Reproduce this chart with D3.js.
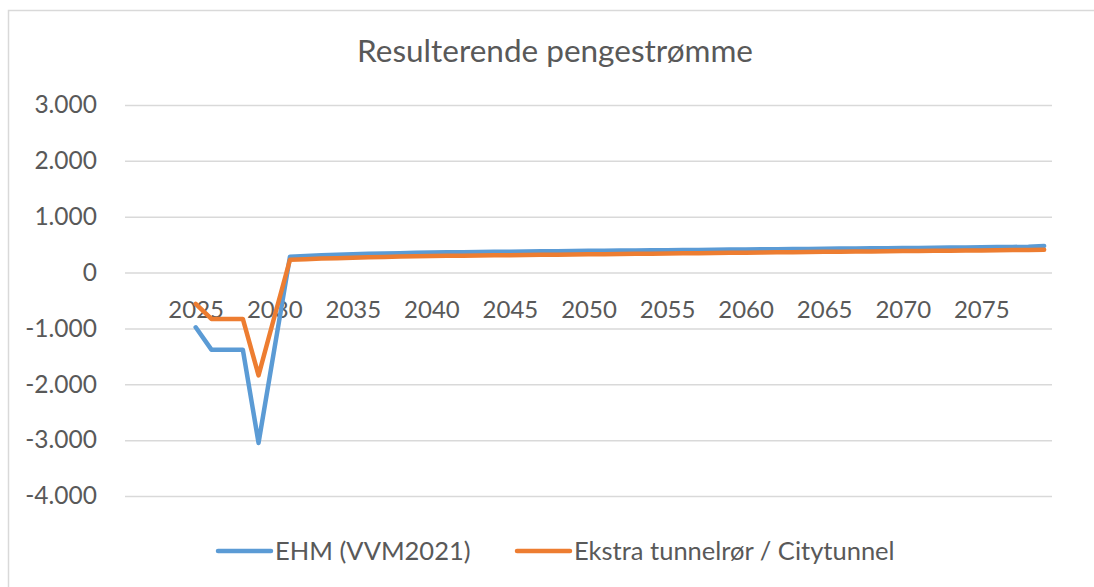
<!DOCTYPE html>
<html>
<head>
<meta charset="utf-8">
<script src="https://cdn.jsdelivr.net/npm/d3@7"></script>
<style>
  html, body { margin: 0; padding: 0; background: #ffffff; }
  svg { display: block; }
  text { font-family: Lato, "Open Sans", sans-serif; fill: #595959; }
</style>
</head>
<body>
<svg id="chart" width="1094" height="587"></svg>
<script>
// ---------- data ----------
const title = "Resulterende pengestrømme";
const years = [2021, 2022, 2023, 2024, 2025, 2026, 2027, 2028, 2029, 2030,
  2031, 2032, 2033, 2034, 2035, 2036, 2037, 2038, 2039, 2040,
  2041, 2042, 2043, 2044, 2045, 2046, 2047, 2048, 2049, 2050,
  2051, 2052, 2053, 2054, 2055, 2056, 2057, 2058, 2059, 2060,
  2061, 2062, 2063, 2064, 2065, 2066, 2067, 2068, 2069, 2070,
  2071, 2072, 2073, 2074, 2075, 2076, 2077, 2078, 2079];
const xTickLabels = [2025, 2030, 2035, 2040, 2045, 2050, 2055, 2060, 2065, 2070, 2075];
const yTicks = [-4000, -3000, -2000, -1000, 0, 1000, 2000, 3000];
const seriesNames = ["EHM (VVM2021)", "Ekstra tunnelrør / Citytunnel"];
const ehm = [null, null, null, null, -980, -1380, -1380, -1380, -3050, -1380,
  285, 297, 308, 318, 327, 335, 342, 348, 354, 359,
  362, 365, 368, 371, 374, 377, 380, 383, 386, 389,
  391, 394, 396, 399, 401, 404, 406, 409, 411, 414,
  416, 419, 421, 424, 426, 429, 431, 434, 436, 439,
  441, 444, 447, 450, 453, 456, 459, 463, 476];
const ekstra = [null, null, null, null, -560, -830, -830, -830, -1840, -800,
  230, 240, 250, 258, 266, 273, 280, 286, 292, 297,
  300, 303, 306, 309, 312, 315, 318, 321, 324, 327,
  330, 333, 336, 339, 342, 345, 348, 351, 354, 357,
  360, 363, 366, 369, 372, 374, 377, 379, 382, 384,
  387, 389, 392, 394, 397, 399, 402, 405, 410];
const colors = ["#5b9bd5", "#ed7d31"];

// ---------- layout ----------
const svg = d3.select("#chart");
const W = 1094, H = 587;
const plot = { left: 125, right: 1052, top: 105, bottom: 496 };

// chart frame
svg.append("rect")
  .attr("x", 8.5).attr("y", 10.5)
  .attr("width", W + 10).attr("height", H + 10)
  .attr("fill", "#ffffff")
  .attr("stroke", "#d9d9d9").attr("stroke-width", 1.5);

const x = d3.scalePoint().domain(years).range([plot.left, plot.right]).padding(0.5);
const y = d3.scaleLinear().domain([-4000, 3000]).range([plot.bottom, plot.top]);

// title
svg.append("text")
  .attr("x", 555).attr("y", 62)
  .attr("text-anchor", "middle")
  .style("font-size", "31.5px")
  .text(title);

// gridlines + y labels via axis
const yAxis = d3.axisLeft(y)
  .tickValues(yTicks)
  .tickSize(-(plot.right - plot.left))
  .tickPadding(28)
  .tickFormat(d => d === 0 ? "0" : d3.format(",")(d).replace(/,/g, ".").replace("\u2212", "-"));
const gy = svg.append("g")
  .attr("transform", `translate(${plot.left},0)`)
  .call(yAxis);
gy.select(".domain").remove();
gy.selectAll(".tick line").attr("stroke", "#d9d9d9").attr("stroke-width", 1.5);
gy.selectAll(".tick text")
  .style("font-size", "24.5px")
  .style("font-family", "Lato, 'Open Sans', sans-serif")
  .attr("fill", "#595959");

// x labels along zero line
const xAxis = d3.axisBottom(x)
  .tickValues(xTickLabels)
  .tickSize(0)
  .tickPadding(45);
const gx = svg.append("g")
  .attr("transform", `translate(0,${y(0)})`)
  .call(xAxis);
gx.select(".domain").remove();
gx.selectAll(".tick text")
  .attr("dy", "0")
  .style("font-size", "24px")
  .style("font-family", "Lato, 'Open Sans', sans-serif")
  .attr("fill", "#595959");

// lines
const line = d3.line()
  .defined(d => d.v !== null)
  .x(d => x(d.year))
  .y(d => y(d.v));
[ehm, ekstra].forEach((vals, i) => {
  const data = years.map((yr, j) => ({ year: yr, v: vals[j] }));
  svg.append("path")
    .datum(data)
    .attr("fill", "none")
    .attr("stroke", colors[i])
    .attr("stroke-width", 4.5)
    .attr("stroke-linejoin", "round")
    .attr("stroke-linecap", "round")
    .attr("d", line);
});

// legend
const legendItems = [
  { x0: 218, name: seriesNames[0], color: colors[0] },
  { x0: 517, name: seriesNames[1], color: colors[1] }
];
const ly = 551;
legendItems.forEach(it => {
  svg.append("line")
    .attr("x1", it.x0).attr("x2", it.x0 + 53)
    .attr("y1", ly).attr("y2", ly)
    .attr("stroke", it.color).attr("stroke-width", 4.5)
    .attr("stroke-linecap", "round");
  svg.append("text")
    .attr("x", it.x0 + 57).attr("y", ly)
    .attr("dy", "0.35em")
    .style("font-size", "25.5px")
    .text(it.name);
});
</script>
</body>
</html>
